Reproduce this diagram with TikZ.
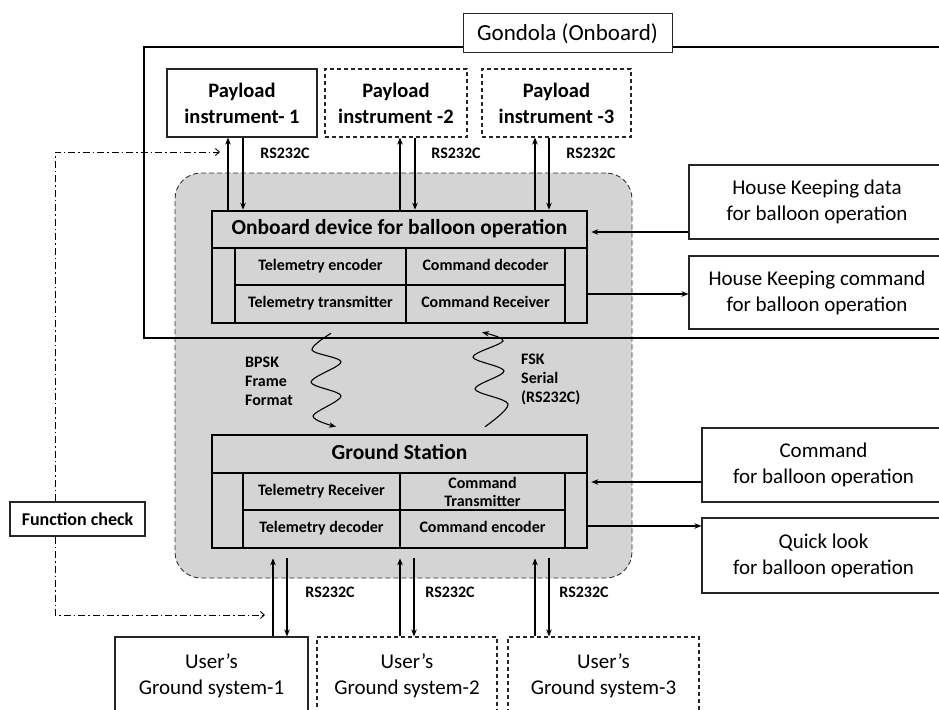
\documentclass[tikz,border=0pt]{standalone}
\usepackage{fontspec}
\setmainfont{Carlito}
\usetikzlibrary{arrows.meta,calc}
\definecolor{gfill}{RGB}{212,212,212}
\begin{document}
\begin{tikzpicture}[x=1pt,y=-1pt,
 box/.style={draw=black!85, line width=1.1pt, fill=white, inner sep=0pt, align=center, font=\fontsize{21}{26}\selectfont},
 bbox/.style={box, font=\bfseries\fontsize{20.5}{26}\selectfont},
 dashedbox/.style={dash pattern=on 4pt off 3pt},
 region/.style={draw=black!80, line width=0.9pt, dash pattern=on 5pt off 3pt, rounded corners=26pt, fill=gfill, inner sep=0pt},
 unit/.style={draw=black, line width=2.6pt, inner sep=0pt},
 grid/.style={line width=1.1pt},
 ttl/.style={inner sep=0pt, text height=15pt, text depth=4.5pt, font=\bfseries\fontsize{21.5}{24}\selectfont},
 cell/.style={inner sep=0pt, text height=11pt, text depth=3.5pt, font=\bfseries\fontsize{16}{17}\selectfont},
 cell2/.style={inner sep=0pt, align=center, font=\bfseries\fontsize{16}{18}\selectfont},
 lbl/.style={inner sep=0pt, align=left, font=\bfseries\fontsize{16}{19}\selectfont},
 arr/.style={line width=1.1pt, -{Stealth[length=7pt,width=5.5pt]}},
 ddarr/.style={line width=0.9pt, dash pattern=on 7pt off 3pt on 1.5pt off 3pt, -{Straight Barb[length=4pt,width=7pt]}},
]
\useasboundingbox (0,0) rectangle (939,709);

% shared region (gray)
\node[region, minimum width=457, minimum height=405] (reg) at (403.5,375.5) {};

% gondola frame
\coordinate (gtr) at (950,47);
\coordinate (gbr) at (950,338);
\draw[line width=2.6pt] (gtr) -- (144,47) -- (144,338) -- (gbr);
\node[box, line width=1pt, minimum width=209, minimum height=39, font=\fontsize{23}{26}\selectfont] (gon) at (567.5,33.5) {Gondola (Onboard)};

% payload instruments
\node[bbox, minimum width=150, minimum height=68] (p1) at (242,103) {Payload\\instrument- 1};
\node[bbox, dashedbox, minimum width=142, minimum height=68] (p2) at (396,103) {Payload\\instrument -2};
\node[bbox, dashedbox, minimum width=149, minimum height=68] (p3) at (556.5,103) {Payload\\instrument -3};

% onboard device
\draw[grid] (212,248) -- (587,248);
\draw[grid] (235,285) -- (565,285);
\draw[grid] (235,248) -- (235,323);
\draw[grid] (406,248) -- (406,323);
\draw[grid] (565,248) -- (565,323);
\node[unit, minimum width=375, minimum height=112] (obd) at (399.5,267) {};
\node[ttl] (obdt) at (399.5,229.5) {Onboard device for balloon operation};
\node[cell] (te) at (320.5,266.5) {Telemetry encoder};
\node[cell] (cd) at (485.5,266.5) {Command decoder};
\node[cell] (tt) at (320.5,304) {Telemetry transmitter};
\node[cell] (cr) at (485.5,304) {Command Receiver};

% ground station
\draw[grid] (212,473) -- (587,473);
\draw[grid] (243,510) -- (565,510);
\draw[grid] (243,473) -- (243,548);
\draw[grid] (400,473) -- (400,548);
\draw[grid] (565,473) -- (565,548);
\node[unit, minimum width=375, minimum height=113] (gs) at (399.5,491.5) {};
\node[ttl] (gst) at (399.5,454) {Ground Station};
\node[cell] (tr) at (321.5,491.5) {Telemetry Receiver};
\node[cell2] (ct) at (482.5,492) {Command\\Transmitter};
\node[cell] (td) at (321.5,529) {Telemetry decoder};
\node[cell] (ce) at (482.5,529) {Command encoder};

% right side boxes
\node[box, minimum width=256, minimum height=74] (hkd) at (817,202) {House Keeping data\\for balloon operation};
\node[box, minimum width=256, minimum height=73] (hkc) at (817,292.5) {House Keeping command\\for balloon operation};
\node[box, minimum width=243, minimum height=74] (cmd) at (823.5,465) {Command\\for balloon operation};
\node[box, minimum width=243, minimum height=75] (ql) at (823.5,555.5) {Quick look\\for balloon operation};

% users
\node[box, minimum width=193, minimum height=78] (u1) at (211.5,676) {User’s\\Ground system-1};
\node[box, dashedbox, minimum width=180, minimum height=78] (u2) at (407,676) {User’s\\Ground system-2};
\node[box, dashedbox, minimum width=191, minimum height=78] (u3) at (603.5,676) {User’s\\Ground system-3};

% function check
\node[bbox, minimum width=135, minimum height=34, font=\bfseries\fontsize{18}{20}\selectfont] (fc) at (77.5,519) {Function check};

% columns for vertical arrows
\coordinate (c1u) at (228,0);
\coordinate (c1d) at (243,0);
\coordinate (c2u) at (400,0);
\coordinate (c2d) at (415,0);
\coordinate (c3u) at (535,0);
\coordinate (c3d) at (549,0);
\coordinate (g1u) at (273,0);
\coordinate (g1d) at (287,0);
\coordinate (g2u) at (400,0);
\coordinate (g2d) at (414,0);
\coordinate (g3u) at (535,0);
\coordinate (g3d) at (549,0);
\coordinate (gsb) at ($(gs.south)+(0,9)$);

\draw[arr] (obd.north -| c1u) -- (p1.south -| c1u);
\draw[arr] (p1.south -| c1d) -- (obd.north -| c1d);
\draw[arr] (obd.north -| c2u) -- (p2.south -| c2u);
\draw[arr] (p2.south -| c2d) -- (obd.north -| c2d);
\draw[arr] (obd.north -| c3u) -- (p3.south -| c3u);
\draw[arr] (p3.south -| c3d) -- (obd.north -| c3d);

\draw[arr] (u1.north -| g1u) -- (gsb -| g1u);
\draw[arr] (gsb -| g1d) -- (u1.north -| g1d);
\draw[arr] (u2.north -| g2u) -- (gsb -| g2u);
\draw[arr] (gsb -| g2d) -- (u2.north -| g2d);
\draw[arr] (u3.north -| g3u) -- (gsb -| g3u);
\draw[arr] (gsb -| g3d) -- (u3.north -| g3d);

\node[lbl] (r1) at (285,153) {RS232C};
\node[lbl] (r2) at (456,153) {RS232C};
\node[lbl] (r3) at (591,153) {RS232C};
\node[lbl] (r4) at (330,592) {RS232C};
\node[lbl] (r5) at (450,592) {RS232C};
\node[lbl] (r6) at (584,592) {RS232C};

% horizontal connectors
\coordinate (ha) at (0,232);
\coordinate (hb) at (0,294);
\coordinate (ca) at (0,482);
\coordinate (qa) at (0,526);
\draw[arr, shorten >=3pt] (hkd.west |- ha) -- (obd.east |- ha);
\draw[arr] (obd.east |- hb) -- (hkc.west |- hb);
\draw[arr, shorten >=3pt] (cmd.west |- ca) -- (gs.east |- ca);
\draw[arr] (gs.east |- qa) -- (ql.west |- qa);

% function check connectors
\coordinate (fcin) at (220,152);
\coordinate (fcout) at (265,615);
\draw[ddarr] ([xshift=-22.5pt]fc.north) |- (fcin);
\draw[ddarr] ([xshift=-22.5pt]fc.south) |- (fcout);

% radio links
\coordinate (b0) at ($(obd.south)+(-68.5,9)$);
\coordinate (b6) at ($(gs.north)+(-63.5,-7)$);
\draw[arr] plot[smooth, tension=0.55] coordinates {(b0) (312,350) (341,362) (311,382) (341,396) (313,416) (b6)};
\coordinate (f0) at ($(gs.north)+(85.5,-7)$);
\coordinate (f6) at ($(obd.south)+(82.5,8)$);
\draw[arr] plot[smooth, tension=0.55] coordinates {(f0) (508,404) (475,389) (504,371) (473,357) (503,341) (f6)};

\node[lbl, anchor=west] (bpsk) at (245,381) {BPSK\\Frame\\Format};
\node[lbl, anchor=west] (fsk) at (521,379) {FSK\\Serial\\(RS232C)};
\end{tikzpicture}
\end{document}
